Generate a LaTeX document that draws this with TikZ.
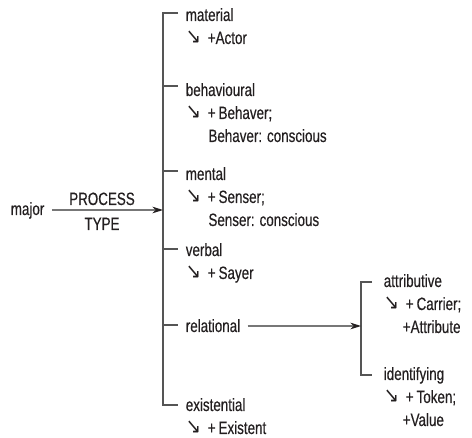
\documentclass[tikz,border=0pt]{standalone}
\usepackage{fontspec}
\setmainfont{Liberation Sans}[FakeStretch=0.75,FakeBold=0.4]
\newfontfamily\arrowfont{DejaVu Sans}[FakeStretch=0.85]
\usepackage{tikz}
\usetikzlibrary{arrows.meta}
\definecolor{ink}{HTML}{231F20}
\definecolor{rule}{HTML}{555555}
\newcommand{\darr}{\makebox[16.5pt][l]{{\arrowfont\fontsize{16}{16}\selectfont ↘}}}

\begin{document}
\begin{tikzpicture}[x=0.75pt,y=-0.75pt,line width=1.2pt,
    lbl/.style={anchor=base west,inner sep=0pt,align=left,text=ink,
      font=\fontsize{13.4pt}{17.25pt}\selectfont},
    bar/.style={draw=rule,line width=1.3pt},
    feed/.style={draw=rule!80,line width=0.8pt,-{Stealth[length=8pt,width=5pt,color=ink]}}]
    \useasboundingbox (0,0) rectangle (472,438);

    % system entry
    \node[lbl] (major) at (10,215) {major};
    \node[lbl,anchor=base] (process) at (102,205) {PROCESS};
    \node[lbl,anchor=base] (type) at (102,230) {TYPE};

    % process types (placed at the baseline of their last line)
    \node[lbl] (material) at (185,44) {material\\\darr+Actor};
    \node[lbl] (behavioural) at (185,142) {behavioural\\\darr+\,Behaver;\\\hspace*{17pt}Behaver: conscious};
    \node[lbl] (mental) at (185,226) {mental\\\darr+\,Senser;\\\hspace*{17pt}Senser: conscious};
    \node[lbl] (verbal) at (185,279) {verbal\\\darr+\,Sayer};
    \node[lbl] (relational) at (185,332) {relational};
    \node[lbl] (existential) at (185,434) {existential\\\darr+\,Existent};

    % relational subtypes
    \node[lbl] (attributive) at (383,333) {attributive\\\darr+\,Carrier;\\\hspace*{14.25pt}+Attribute};
    \node[lbl] (identifying) at (383,426) {identifying\\\darr+\,Token;\\\hspace*{14.25pt}+Value};

    % bracket points
    \coordinate (procin) at (163,210);
    \coordinate (procbot) at (163,405);
    \coordinate (t-material) at (178,13);
    \coordinate (t-behavioural) at (178,86);
    \coordinate (t-mental) at (178,171);
    \coordinate (t-verbal) at (178,249);
    \coordinate (t-relational) at (178,325);
    \coordinate (t-existential) at (178,405);
    \coordinate (relin) at (361,326);
    \coordinate (relbot) at (361,375);
    \coordinate (t-attributive) at (372,282);
    \coordinate (t-identifying) at (372,375);

    \draw[bar] (t-material) -| (procbot) -- (t-existential);
    \draw[bar] (t-behavioural -| procbot) -- (t-behavioural)
               (t-mental -| procbot) -- (t-mental)
               (t-verbal -| procbot) -- (t-verbal)
               (t-relational -| procbot) -- (t-relational);
    \draw[bar] (t-attributive) -| (relbot) -- (t-identifying);

    \draw[feed] ([xshift=5pt]major.east |- procin) -- (procin);
    \draw[feed] ([xshift=5pt]relational.east |- relin) -- (relin);
\end{tikzpicture}
\end{document}
